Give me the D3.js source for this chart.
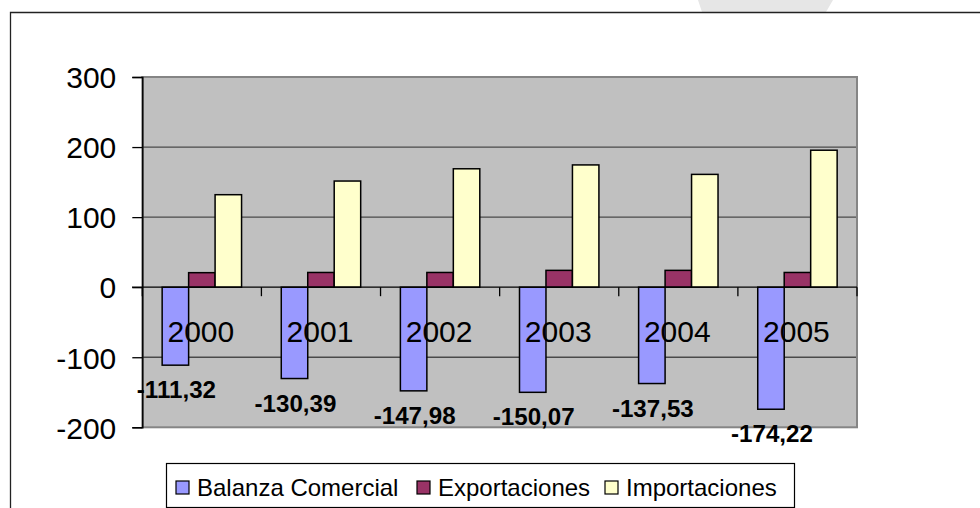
<!DOCTYPE html>
<html><head><meta charset="utf-8">
<script src="https://cdn.jsdelivr.net/npm/d3@7"></script>
<style>body{margin:0;background:#fff;}svg{display:block;font-family:Arial,"Liberation Sans",sans-serif;}</style>
</head><body>
<svg id="c" width="980" height="508"></svg>
<script>
const years = ["2000","2001","2002","2003","2004","2005"];
const seriesNames = ["Balanza Comercial","Exportaciones","Importaciones"];
const balanza = [-111.32,-130.39,-147.98,-150.07,-137.53,-174.22];
const exportaciones = [20.7,21,21,24,24,21];
const importaciones = [132,151.5,169,174.5,161,195.5];
const balanzaLabels = ["-111,32","-130,39","-147,98","-150,07","-137,53","-174,22"];
const yTicks = [300,200,100,0,-100,-200];
const colors = ["#9999FF","#993366","#FFFFCC"];

const svg = d3.select("#c");
// watermark band
svg.append("path").attr("d","M698,0 L833,0 L826,12 L702,12 Z").attr("fill","#e6e6e6");
// outer frame
svg.append("path").attr("d","M10.5,520 L10.5,12.5 L990,12.5").attr("fill","none").attr("stroke","#222").attr("stroke-width",1.3);

const L=142.3, R=857, T=77, B=427.3;
const y = d3.scaleLinear().domain([-200,300]).range([B,T]);
const x0 = d3.scaleBand().domain(years).range([L,R]).paddingInner(0).paddingOuter(0);
const gw = x0.bandwidth();
const bw = gw/4.5;
const x1 = d3.scaleBand().domain(seriesNames).range([0,bw*3]);

// plot bg
svg.append("rect").attr("x",L).attr("y",T).attr("width",R-L).attr("height",B-T).attr("fill","#C0C0C0");
// gridlines
svg.append("g").selectAll("line").data(yTicks.filter(d=>d!==0 && d!==300 && d!==-200)).join("line")
  .attr("x1",L).attr("x2",R).attr("y1",d=>y(d)).attr("y2",d=>y(d)).attr("stroke","#4a4a4a").attr("stroke-width",1.3);
// plot border (grey)
svg.append("rect").attr("x",L).attr("y",T).attr("width",R-L).attr("height",B-T).attr("fill","none").attr("stroke","#858585").attr("stroke-width",2);

const data = years.map((yr,i)=>({yr, vals:[balanza[i],exportaciones[i],importaciones[i]]}));
const g = svg.append("g").selectAll("g").data(data).join("g")
  .attr("transform",d=>`translate(${x0(d.yr)+(gw-bw*3)/2},0)`);
g.selectAll("rect").data(d=>d.vals.map((v,k)=>({v,k}))).join("rect")
  .attr("x",d=>x1(seriesNames[d.k])).attr("width",x1.bandwidth())
  .attr("y",d=>Math.min(y(d.v),y(0))).attr("height",d=>Math.abs(y(d.v)-y(0)))
  .attr("fill",d=>colors[d.k]).attr("stroke","#000").attr("stroke-width",1.5);

// zero line (x axis)
svg.append("line").attr("x1",132).attr("x2",R).attr("y1",y(0)).attr("y2",y(0)).attr("stroke","#000").attr("stroke-width",1.3);
// x ticks at category boundaries
const bounds = years.map(d=>x0(d)).concat([R]);
svg.append("g").selectAll("line").data(bounds).join("line")
  .attr("x1",d=>d).attr("x2",d=>d).attr("y1",y(0)).attr("y2",y(0)+9).attr("stroke","#000").attr("stroke-width",1.3);

// y axis
const yAxis = d3.axisLeft(y).tickValues(yTicks).tickSize(10).tickFormat(d3.format("d"));
const ya = svg.append("g").attr("transform",`translate(${L},0)`).call(yAxis);
ya.select(".domain").attr("stroke","#000").attr("stroke-width",1.5);
ya.selectAll(".tick line").attr("stroke","#000").attr("stroke-width",1.3);
ya.selectAll(".tick text").attr("x",-26).attr("dy","0.36em").attr("font-size",30).attr("fill","#000")
  .attr("font-family","Arial,'Liberation Sans',sans-serif").text(d=>d<0?"-"+Math.abs(d):d);

// category labels
svg.append("g").selectAll("text").data(years).join("text")
  .attr("x",d=>x0(d)+gw/2-1).attr("y",341.5).attr("text-anchor","middle").attr("font-size",30).attr("fill","#000").text(d=>d);

// data labels for balanza
svg.append("g").selectAll("text").data(data).join("text")
  .attr("x",(d)=>x0(d.yr)+(gw-bw*3)/2+x1(seriesNames[0])+x1.bandwidth()/2+1)
  .attr("y",(d,i)=>y(balanza[i])+33).attr("text-anchor","middle").attr("font-size",23).attr("font-weight","bold")
  .attr("fill","#000").attr("transform",(d,i)=>{const cx=x0(d.yr)+(gw-bw*3)/2+x1(seriesNames[0])+x1.bandwidth()/2+1;return `translate(${cx},0) scale(1.05,1) translate(${-cx},0)`;})
  .text((d,i)=>balanzaLabels[i]);

// legend
const lg = svg.append("g");
lg.append("rect").attr("x",166.5).attr("y",463.5).attr("width",628).attr("height",44).attr("fill","#fff").attr("stroke","#000").attr("stroke-width",1.2);
const legX = [176, 417, 605];
seriesNames.forEach((n,k)=>{
  lg.append("rect").attr("x",legX[k]).attr("y",481).attr("width",13).attr("height",13).attr("fill",colors[k]).attr("stroke","#000").attr("stroke-width",1.2);
  lg.append("text").attr("x",legX[k]+21).attr("y",496).attr("font-size",24).attr("fill","#000").text(n);
});
</script>
</body></html>
